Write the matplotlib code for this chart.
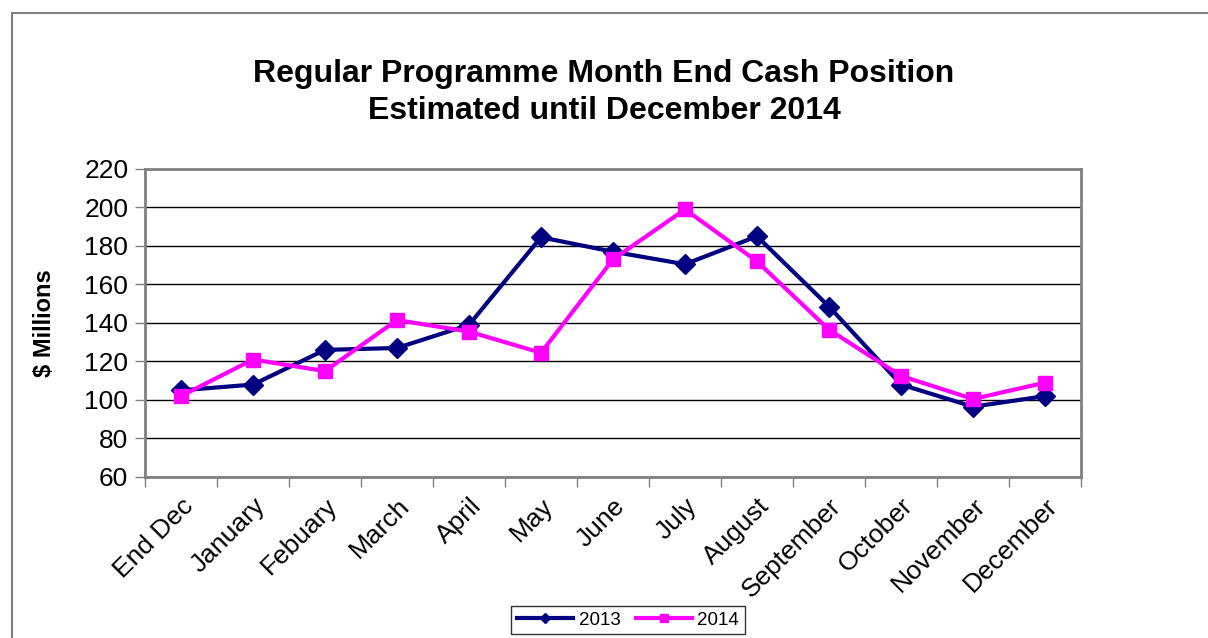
import matplotlib.pyplot as plt
from matplotlib.patches import Rectangle

plt.rcParams['font.family'] = ['Liberation Sans', 'DejaVu Sans']

months = ["End Dec", "January", "Febuary", "March", "April", "May", "June",
          "July", "August", "September", "October", "November", "December"]
cash_2013 = [105, 108, 126, 127, 139, 184.5, 177, 170.5, 185, 148.5, 108, 96.5, 102]
cash_2014 = [102, 121, 115, 141.5, 135.5, 124.5, 173, 199, 172, 136.5, 112.5, 100.5, 109]

fig = plt.figure(figsize=(12.08, 6.38), dpi=100)
# outer chart border (runs off the right and bottom edges)
fig.patches.append(Rectangle((12 / 1208, -0.1), 1.2, 1.1 - 13 / 638,
                             transform=fig.transFigure, fill=False,
                             edgecolor='#808080', linewidth=1.5))

ax = fig.add_axes([0.12, 0.2524, 0.7749, 0.4828])
x = range(len(months))
ax.plot(x, cash_2013, color='#000080', linewidth=3, marker='D', markersize=10,
        label='2013', zorder=3)
ax.plot(x, cash_2014, color='#FF00FF', linewidth=3, marker='s', markersize=10,
        label='2014', zorder=4)

ax.set_xlim(-0.5, len(months) - 0.5)
ax.set_ylim(60, 220)
ax.set_yticks(range(60, 221, 20))
ax.yaxis.grid(True, color='black', linewidth=1)
ax.set_axisbelow(True)

# tick marks between categories, labels centred on categories
ax.set_xticks([i - 0.5 for i in range(len(months) + 1)])
ax.set_xticklabels([])
ax.set_xticks(list(x), minor=True)
ax.set_xticklabels(months, minor=True, rotation=45, ha='right', va='top',
                   rotation_mode='anchor', fontsize=19)
ax.tick_params(axis='x', which='minor', length=0, pad=12)
ax.tick_params(axis='x', which='major', length=7, width=1, color='#808080', direction='out')
ax.tick_params(axis='y', length=7, width=1, color='#808080', labelsize=19, pad=5)

for s in ax.spines.values():
    s.set_color('#808080')
    s.set_linewidth(2)

ax.set_ylabel('$ Millions', fontsize=17, fontweight='bold', labelpad=20)

fig.text(0.5, 0.855, 'Regular Programme Month End Cash Position\nEstimated until December 2014',
         ha='center', va='center', fontsize=23, fontweight='bold', linespacing=1.3)

leg = fig.legend(loc='center', bbox_to_anchor=(628 / 1208, 1 - 620 / 638), ncol=2,
                 fontsize=13.5, frameon=True, fancybox=False, edgecolor='black',
                 markerscale=0.55, handlelength=3.0, handletextpad=0.3,
                 borderpad=0.3, columnspacing=0.8, borderaxespad=0)
leg.get_frame().set_linewidth(1)

fig.savefig('out.png', dpi=100)
